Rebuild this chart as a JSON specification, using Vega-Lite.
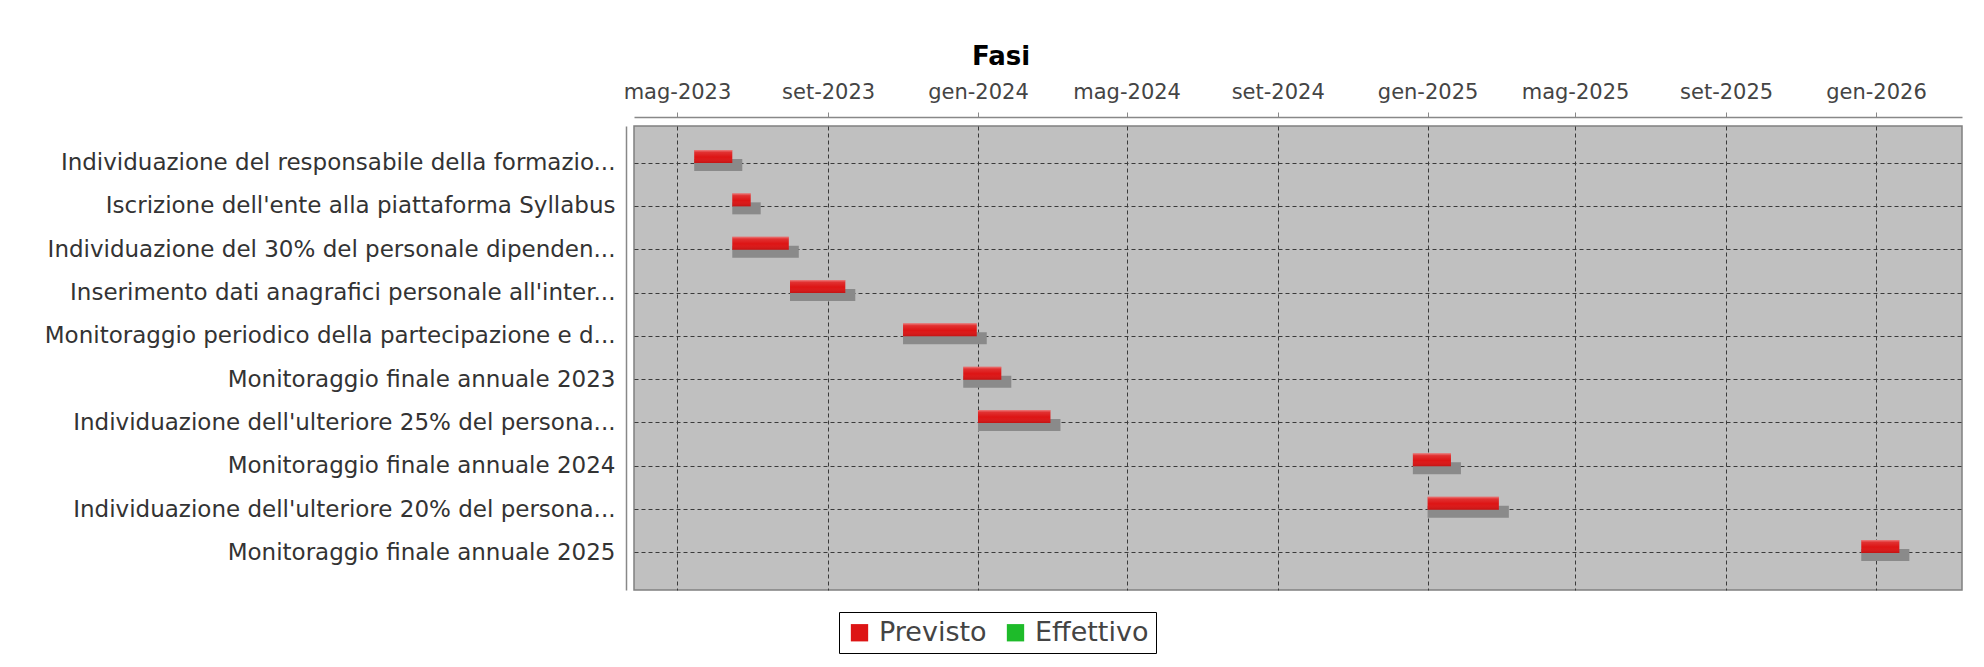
{
  "$schema": "https://vega.github.io/schema/vega-lite/v6.json",
  "autosize": {"type": "none"},
  "width": 1328,
  "height": 464,
  "padding": {"left": 634, "top": 126, "right": 22, "bottom": 77},
  "background": "#ffffff",
  "title": {
    "text": "Fasi",
    "anchor": "middle",
    "dx": -297,
    "offset": 11,
    "font": "DejaVu Sans",
    "fontSize": 26,
    "fontWeight": "bold",
    "color": "#000000"
  },
  "data": {
    "values": [
      {"task": "Individuazione del responsabile della formazio...", "start": "2023-05-15", "end": "2023-06-15", "series": "Previsto"},
      {"task": "Iscrizione dell'ente alla piattaforma Syllabus", "start": "2023-06-15", "end": "2023-06-30", "series": "Previsto"},
      {"task": "Individuazione del 30% del personale dipenden...", "start": "2023-06-15", "end": "2023-07-31", "series": "Previsto"},
      {"task": "Inserimento dati anagrafici personale all'inter...", "start": "2023-08-01", "end": "2023-09-15", "series": "Previsto"},
      {"task": "Monitoraggio periodico della partecipazione e d...", "start": "2023-11-01", "end": "2023-12-31", "series": "Previsto"},
      {"task": "Monitoraggio finale annuale 2023", "start": "2023-12-20", "end": "2024-01-20", "series": "Previsto"},
      {"task": "Individuazione dell'ulteriore 25% del persona...", "start": "2024-01-01", "end": "2024-02-29", "series": "Previsto"},
      {"task": "Monitoraggio finale annuale 2024", "start": "2024-12-20", "end": "2025-01-20", "series": "Previsto"},
      {"task": "Individuazione dell'ulteriore 20% del persona...", "start": "2025-01-01", "end": "2025-02-28", "series": "Previsto"},
      {"task": "Monitoraggio finale annuale 2025", "start": "2025-12-20", "end": "2026-01-20", "series": "Previsto"}
    ]
  },
  "encoding": {
    "y": {
      "field": "task",
      "type": "nominal",
      "sort": null,
      "scale": {"type": "band", "paddingInner": 0, "paddingOuter": 0.354},
      "axis": {
        "title": null,
        "orient": "left",
        "offset": 8,
        "bandPosition": 0.5,
        "ticks": false,
        "labelPadding": 11,
        "labelLimit": 0,
        "labelFont": "DejaVu Sans",
        "labelFontSize": 23,
        "labelColor": "#333333",
        "domainColor": "#888888",
        "domainWidth": 1.5,
        "grid": true,
        "gridColor": "#3a3a3a",
        "gridDash": [4, 3],
        "gridWidth": 1
      }
    },
    "x": {
      "field": "start",
      "type": "temporal",
      "scale": {
        "type": "utc",
        "domain": [
          {"year": 2023, "month": 3, "date": 27, "utc": true},
          {"year": 2026, "month": 3, "date": 12, "utc": true}
        ]
      },
      "axis": {
        "title": null,
        "orient": "top",
        "offset": 9,
        "values": [
          {"year": 2023, "month": 5, "date": 1, "utc": true},
          {"year": 2023, "month": 9, "date": 1, "utc": true},
          {"year": 2024, "month": 1, "date": 1, "utc": true},
          {"year": 2024, "month": 5, "date": 1, "utc": true},
          {"year": 2024, "month": 9, "date": 1, "utc": true},
          {"year": 2025, "month": 1, "date": 1, "utc": true},
          {"year": 2025, "month": 5, "date": 1, "utc": true},
          {"year": 2025, "month": 9, "date": 1, "utc": true},
          {"year": 2026, "month": 1, "date": 1, "utc": true}
        ],
        "labelExpr": "['gen','feb','mar','apr','mag','giu','lug','ago','set','ott','nov','dic'][utcmonth(datum.value)] + '-' + utcyear(datum.value)",
        "labelFont": "DejaVu Sans",
        "labelFontSize": 21,
        "labelColor": "#444444",
        "labelPadding": 10,
        "tickSize": 5,
        "tickColor": "#888888",
        "domainColor": "#888888",
        "domainWidth": 1.5,
        "grid": true,
        "gridColor": "#3a3a3a",
        "gridDash": [4, 3],
        "gridWidth": 1
      }
    },
    "x2": {"field": "end"}
  },
  "layer": [
    {
      "mark": {"type": "bar", "height": 12, "yOffset": 2, "x2Offset": 10, "color": "#8a8a8a", "cornerRadius": 0}
    },
    {
      "mark": {"type": "bar", "height": 13, "yOffset": -6.5},
      "encoding": {
        "color": {
          "field": "series",
          "type": "nominal",
          "scale": {"domain": ["Previsto", "Effettivo"], "range": ["#dd1414", "#1ebb2a"]},
          "legend": {
            "title": null,
            "orient": "none",
            "legendX": 205,
            "legendY": 486,
            "direction": "horizontal",
            "symbolType": "square",
            "symbolSize": 300,
            "symbolStrokeWidth": 0,
            "labelFont": "DejaVu Sans",
            "labelFontSize": 27,
            "labelColor": "#444444",
            "labelOffset": 6,
            "columnPadding": 15,
            "padding": 7,
            "strokeColor": "#000000",
            "fillColor": "#ffffff"
          }
        }
      }
    },
    {
      "mark": {
        "type": "bar",
        "height": 13,
        "yOffset": -6.5,
        "fill": {
          "gradient": "linear",
          "x1": 0, "y1": 0, "x2": 0, "y2": 1,
          "stops": [
            {"offset": 0, "color": "rgba(255,255,255,0.45)"},
            {"offset": 0.18, "color": "rgba(255,255,255,0.12)"},
            {"offset": 0.55, "color": "rgba(255,255,255,0)"},
            {"offset": 1, "color": "rgba(0,0,0,0.12)"}
          ]
        }
      }
    }
  ],
  "config": {
    "view": {"fill": "#c0c0c0", "stroke": "#808080", "strokeWidth": 1.5}
  }
}
